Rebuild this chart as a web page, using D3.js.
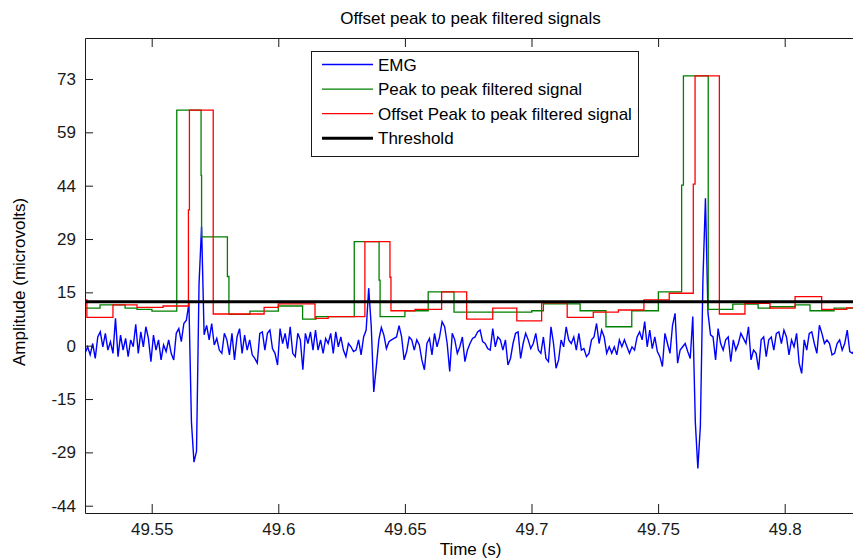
<!DOCTYPE html>
<html>
<head>
<meta charset="utf-8">
<script src="https://cdn.jsdelivr.net/npm/d3@7"></script>
<style>
  body { margin: 0; background: #fff; }
  text { font-family: "Liberation Sans", Arial, sans-serif; }
</style>
</head>
<body>
<div id="container"></div>
<script>
let w = 853;
let h = 560;
let plotLeft = 85, plotRight = 856, plotTop = 38, plotBottom = 513;

// EMG samples (microvolts), 1 ms apart
let emgStart = 49.5237;
let emgStep = 0.001;
let emgValues = [
  -2.1,-0.3,-2.5,0.6,-3.5,2.4,3.8,-0.3,3.4,-1.2,1.1,-2.1,7.5,-3,2.9,-1.2,2,-3,1.6,-0.3,
  5.9,-2.1,3.8,-0.3,5.2,2,-4.4,2.9,-1.2,1.6,-3.9,0.2,-1.6,1.6,-2.1,-3.9,3.4,4.7,1.1,6.1,
  7,11.7,-21,-32,-29,17,32.7,3,5.6,1.6,6.1,0.2,2,-1.2,-2.1,3.4,1.6,-2.5,3.4,-3.9,
  2.4,4.7,-2.1,2.9,-1.2,1.6,-2.5,-3.5,-4.8,3.4,3.8,-1.2,3.4,4.3,-0.8,-2.1,-5.3,4.7,0.6,3.4,
  -0.8,5.2,-2.1,-3,3.4,1.6,-6.6,3.4,0.6,3.8,-1.2,4.3,-1.2,1.6,-2.1,2,0.6,3.4,-2.1,3.8,
  -0.3,2.4,-1.2,-3,0.6,-0.3,-1.6,-1.2,1.6,-2.5,2.4,4.3,15.8,5.5,-12.7,-5.8,1.6,5,2.9,-0.8,
  1.1,1.6,2,2.4,5.5,2.4,-3.9,-1.6,2.4,1.6,-1.2,1.6,0.2,-3.9,-6.6,0.6,2,-2.5,3.4,-0.3,
  2.4,6.6,5.2,0.6,-7.1,3.4,1.6,-2.1,-0.3,2.4,-4.4,-1.2,0.6,2,2.4,3.8,4.3,1.1,0.6,-0.8,
  -1.2,4.7,-0.3,2.4,1.6,-1.2,1.6,-5.3,-3.5,0.6,3.4,3.8,-3.5,0.6,3.4,1.6,-0.8,0.6,3.4,-1.2,
  -2.1,2.4,-3.5,-4.4,5.2,0.6,-6.2,-3.9,1.6,-0.3,5.2,1.6,0.6,2.4,-1.2,3.4,-1.2,-0.8,-3,-2.1,
  1.6,2.4,6.1,0.6,4.3,2.4,-2.1,-0.3,-2.1,-0.3,-2.5,1.6,-0.3,1.6,-0.3,-2.1,-0.3,-1.2,2.4,3.8,
  1.6,6.6,-0.3,4.3,-0.8,2.4,-1.6,-3,-5.7,3.4,0.6,-2.1,5.6,8.9,-4.8,-1.2,-0.3,0.6,-1.6,-3.5,
  8,-21,-33.7,-22,18,40.5,9,3,2.4,-3.9,4.7,0.6,-1.2,1.6,2.4,-4.4,1.6,-1.2,0.6,3.4,
  2,0.6,5.2,-3.9,-1.2,-2.1,-6.6,1.6,2.4,-3,1.6,2.4,-1.2,3.4,3.8,0.6,4.3,2.4,-2.5,1.6,
  -0.3,3.4,-4.8,-7.6,1.6,-1.2,3.4,3.8,0.6,-2.1,5.6,3.4,0.6,1.6,0.6,-2.5,-2.1,0.6,1.6,-1.2,
  0.6,4.3,-1.6,-2.1,-1,1.5
];

// peak to peak filtered signal: step start times and levels
let p2pTimes = [49.5237,49.5296,49.5395,49.5442,49.5501,49.5599,49.5695,49.5697,49.5799,49.5805,
  49.5888,49.6000,49.6096,49.6149,49.6300,49.6398,49.6402,49.6500,49.6592,49.6694,
  49.7001,49.7047,49.7192,49.7294,49.7396,49.7501,49.7593,49.7600,49.7698,49.7795,
  49.7895,49.7942,49.8041,49.8100,49.8195];
let p2pValues = [10.3,11.2,10.3,10.0,9.5,64.7,46.8,29.9,19.0,8.6,
  9.5,10.9,7.3,8.0,28.6,18.0,8.0,9.6,14.8,9.2,
  9.6,11.5,9.6,5.2,9.6,14.8,44.1,74.1,10.0,11.4,
  10.3,10.7,11.2,9.6,10.3];

// offset peak to peak filtered signal
let offsetTimes = [49.5237,49.5244,49.5347,49.5442,49.5545,49.5645,49.5649,49.5743,49.5944,49.6000,
  49.6145,49.6197,49.6342,49.6441,49.6445,49.6540,49.6645,49.6744,49.6847,49.6942,
  49.7040,49.7141,49.7244,49.7343,49.7444,49.7544,49.7639,49.7646,49.7742,49.7843,
  49.7942,49.8041,49.8146,49.8245];
let offsetValues = [12.6,7.8,11.2,10.5,10.9,37.3,64.7,8.7,10.5,11.5,
  7.5,8.0,28.6,18.8,9.6,10.0,14.8,7.3,10.3,6.8,
  11.8,7.8,9.2,9.8,12.6,14.4,44.4,74.1,8.7,11.6,
  10.3,13.5,10.0,10.4];

let threshold = 12.1;

let xTicks = [49.55, 49.6, 49.65, 49.7, 49.75, 49.8];
let xTickLabels = ["49.55", "49.6", "49.65", "49.7", "49.75", "49.8"];
let yTicks = [-43.95, -29.3, -14.65, 0, 14.65, 29.3, 43.95, 58.6, 73.25];
let yTickLabels = ["-44", "-29", "-15", "0", "15", "29", "44", "59", "73"];

let legendNames = ["EMG", "Peak to peak filtered signal", "Offset Peak to peak filtered signal", "Threshold"];
let legendColors = ["#0000ff", "#008000", "#ff0000", "#000000"];

let viz = d3.select("#container")
  .append("svg")
    .attr("width", w)
    .attr("height", h)
    .style("background-color", "white");

let xScale = d3.scaleLinear().domain([49.52366, 49.82816]).range([plotLeft, plotRight]);
let yScale = d3.scaleLinear().domain([-45.95, 84.51]).range([plotBottom, plotTop]);

viz.append("clipPath").attr("id", "plotclip")
  .append("rect")
    .attr("x", plotLeft).attr("y", plotTop)
    .attr("width", plotRight - plotLeft).attr("height", plotBottom - plotTop);

let plot = viz.append("g").attr("clip-path", "url(#plotclip)");

// emg trace
let emgData = emgValues.map(function(v, i){ return { t: emgStart + i * emgStep, v: v }; });
let emgLine = d3.line().x(function(d){ return xScale(d.t); }).y(function(d){ return yScale(d.v); });
plot.append("path")
  .datum(emgData)
  .attr("d", emgLine)
  .attr("fill", "none")
  .attr("stroke", "#0000ff")
  .attr("stroke-width", 1.4);

// step signals
function stepData(times, values){
  let pts = times.map(function(t, i){ return { t: t, v: values[i] }; });
  pts.push({ t: xScale.domain()[1], v: values[values.length - 1] });
  return pts;
}
let stepLine = d3.line()
  .x(function(d){ return xScale(d.t); })
  .y(function(d){ return yScale(d.v); })
  .curve(d3.curveStepAfter);

plot.append("path")
  .datum(stepData(p2pTimes, p2pValues))
  .attr("d", stepLine)
  .attr("fill", "none")
  .attr("stroke", "#008000")
  .attr("stroke-width", 1.3);

plot.append("path")
  .datum(stepData(offsetTimes, offsetValues))
  .attr("d", stepLine)
  .attr("fill", "none")
  .attr("stroke", "#ff0000")
  .attr("stroke-width", 1.3);

// threshold
plot.append("line")
  .attr("x1", xScale.range()[0]).attr("x2", xScale.range()[1])
  .attr("y1", yScale(threshold)).attr("y2", yScale(threshold))
  .attr("stroke", "#000")
  .attr("stroke-width", 3);

// axes (ticks point inward)
let xAxis = d3.axisBottom(xScale).tickValues(xTicks)
  .tickFormat(function(d, i){ return xTickLabels[i]; })
  .tickSizeInner(-9).tickSizeOuter(0).tickPadding(10);
let xAxisTop = d3.axisTop(xScale).tickValues(xTicks).tickFormat("")
  .tickSizeInner(-9).tickSizeOuter(0);
let yAxis = d3.axisLeft(yScale).tickValues(yTicks)
  .tickFormat(function(d, i){ return yTickLabels[i]; })
  .tickSizeInner(-8).tickSizeOuter(0).tickPadding(9);

let gx = viz.append("g").attr("transform", "translate(0," + plotBottom + ")").call(xAxis);
let gxt = viz.append("g").attr("transform", "translate(0," + plotTop + ")").call(xAxisTop);
let gy = viz.append("g").attr("transform", "translate(" + plotLeft + ",0)").call(yAxis);

[gx, gxt, gy].forEach(function(g){
  g.attr("font-family", null).attr("font-size", null);
  g.selectAll("path, line").attr("stroke", "#1a1a1a");
  g.selectAll("text").style("font-size", "17px").attr("fill", "#1a1a1a");
});

// titles
viz.append("text")
  .attr("x", (plotLeft + plotRight) / 2).attr("y", 24)
  .attr("text-anchor", "middle")
  .style("font-size", "17px")
  .text("Offset peak to peak filtered signals");

viz.append("text")
  .attr("x", (plotLeft + plotRight) / 2).attr("y", 555)
  .attr("text-anchor", "middle")
  .style("font-size", "17px")
  .text("Time (s)");

viz.append("text")
  .attr("transform", "translate(25,282) rotate(-90)")
  .attr("text-anchor", "middle")
  .style("font-size", "17px")
  .text("Amplitude (microvolts)");

// legend
let legend = viz.append("g");
legend.append("rect")
  .attr("x", 311.5).attr("y", 51.5)
  .attr("width", 327).attr("height", 105)
  .attr("fill", "white")
  .attr("stroke", "#1a1a1a");

let items = legend.selectAll(".item").data(legendNames).enter()
  .append("g")
    .classed("item", true)
    .attr("transform", function(d, i){ return "translate(0," + (64.5 + i * 24.6) + ")"; });

items.append("line")
  .attr("x1", 322).attr("x2", 373)
  .attr("stroke", function(d, i){ return legendColors[i]; })
  .attr("stroke-width", function(d, i){ return i == 3 ? 3 : 1.3; });

items.append("text")
  .attr("x", 378).attr("dy", "0.36em")
  .style("font-size", "17px")
  .text(function(d){ return d; });
</script>
</body>
</html>
